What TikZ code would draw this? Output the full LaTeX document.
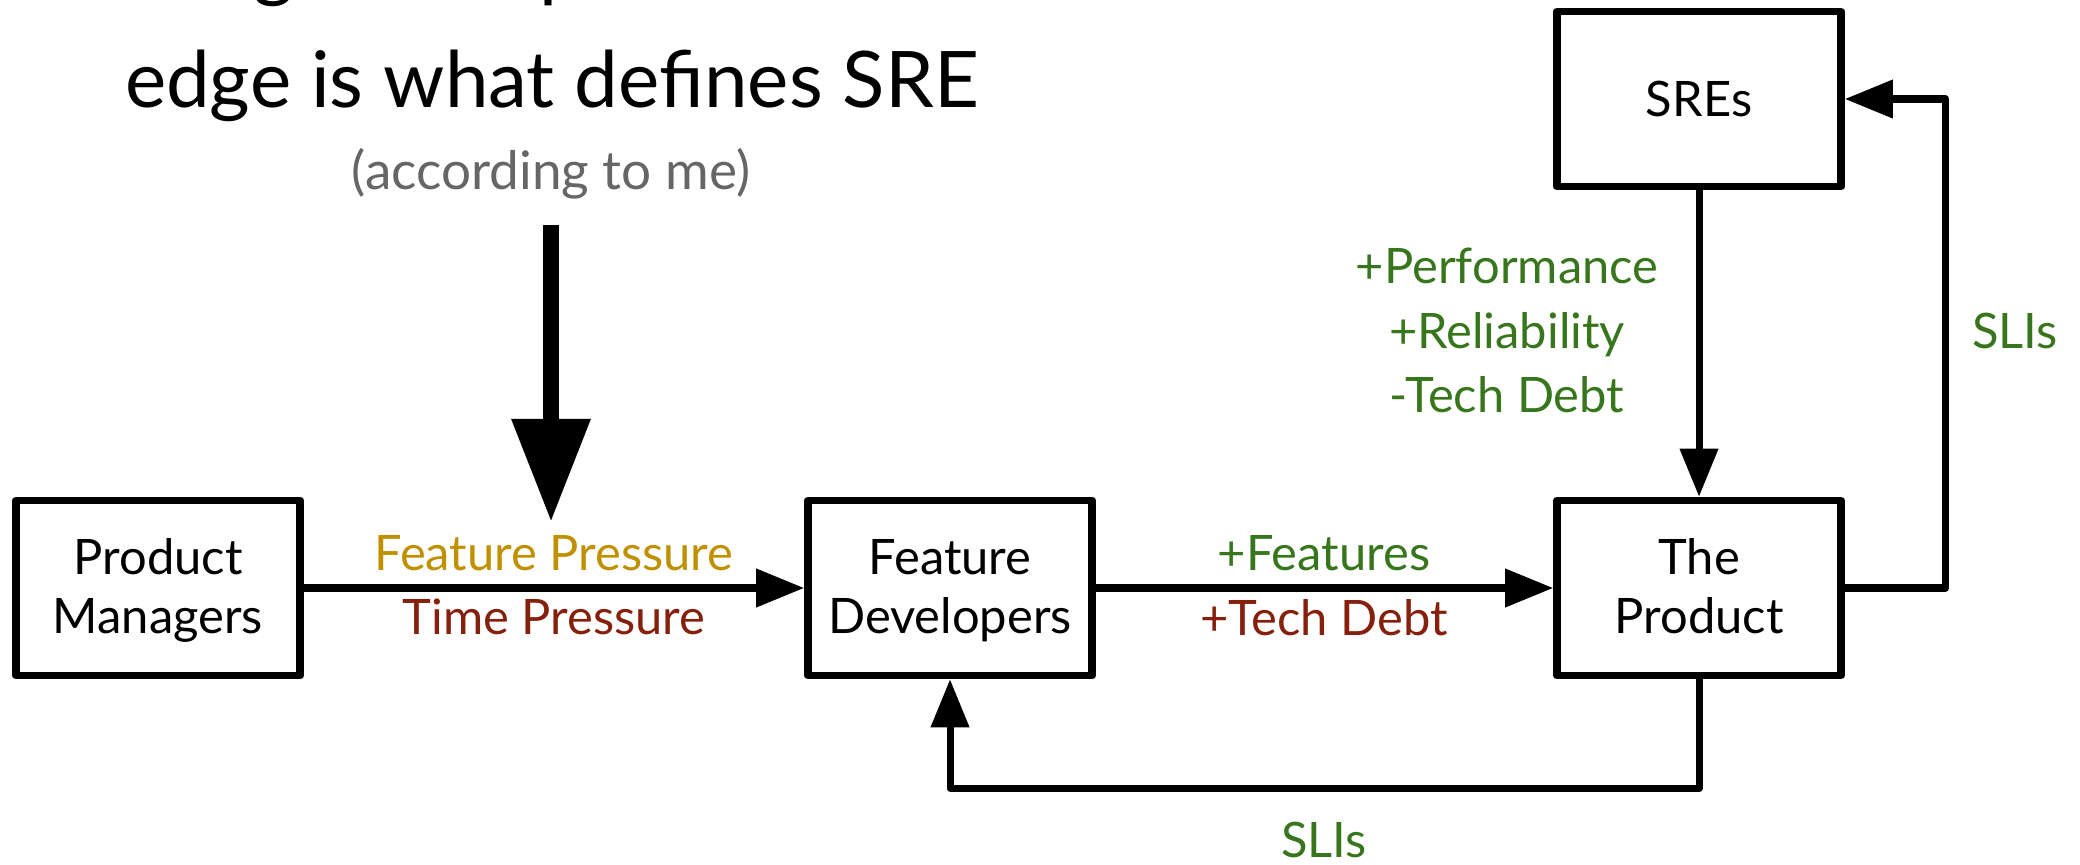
\documentclass[tikz,border=0pt]{standalone}
\usepackage{fontspec}
\setmainfont{Lato}
\usetikzlibrary{arrows.meta}
\definecolor{pressgold}{HTML}{BF9000}
\definecolor{pressred}{HTML}{85200C}
\definecolor{goodgreen}{HTML}{38761D}
\definecolor{softgray}{HTML}{666666}

\begin{document}
\begin{tikzpicture}[x=0.01cm,y=-0.01cm,
  box/.style={draw,line width=2.1pt,line join=round,minimum width=2.84cm,
    minimum height=1.75cm,inner sep=0pt,align=center,
    font=\fontsize{13.9}{16.5}\selectfont},
  twoline/.style={text height=25.6pt,text depth=0pt},
  link/.style={line width=2pt,line join=round,
    -{Triangle[length=0.48cm,width=0.37cm]}},
  lbl/.style={anchor=base,font=\fontsize{13.9}{16}\selectfont},
  headline/.style={anchor=base,font=\fontsize{22.2}{26}\selectfont},
]
\useasboundingbox (0,0) rectangle (2080,864);

% heading (its first line runs off the top edge)
\node[headline] (headg) at (274,-7) {g};
\node[headline,anchor=base west] (headp) at (527,-7) {p};
\node[headline] (title) at (552,108) {edge is what defines SRE};
\node[anchor=base,text=softgray,font=\fontsize{15.1}{18}\selectfont] (sub)
  at (551,190) {(according to me)};

% the four actors
\node[box,twoline] (pm)   at (158,588)  {Product\\Managers};
\node[box,twoline] (fd)   at (950,588)  {Feature\\Developers};
\node[box,twoline] (prod) at (1699,588) {The\\Product};
\node[box] (sre)  at (1699,99)  {SREs};

% flows between them
\draw[link] (pm) -- (fd);
\draw[link] (fd) -- (prod);
\draw[link] (sre) -- (prod);
\draw[link] (prod.east) -- ++(101,0) |- (sre.east);
\draw[link] (prod.south) -- ++(0,109) -| (fd.south);

% pointer at the pressure edge
\coordinate (hintTop) at (551,225);
\coordinate (hintTip) at (551,522);
\draw[line width=0.16cm,-{Triangle[length=1.03cm,width=0.75cm]}] (hintTop) -- (hintTip);

% edge labels
\node[lbl,text=pressgold] (fpress) at (554,570) {Feature Pressure};
\node[lbl,text=pressred]  (tpress) at (554,634) {Time Pressure};
\node[lbl,text=goodgreen] (feat)   at (1324,570) {+Features};
\node[lbl,text=pressred]  (debt)   at (1324,635) {+Tech Debt};
\node[lbl,text=goodgreen] (perf)   at (1507,284) {+Performance};
\node[lbl,text=goodgreen] (rel)    at (1507,348) {+Reliability};
\node[lbl,text=goodgreen] (less)   at (1507,412) {-Tech Debt};
\node[lbl,text=goodgreen] (slia)   at (2015,348) {SLIs};
\node[lbl,text=goodgreen] (slib)   at (1324,857) {SLIs};
\end{tikzpicture}
\end{document}
